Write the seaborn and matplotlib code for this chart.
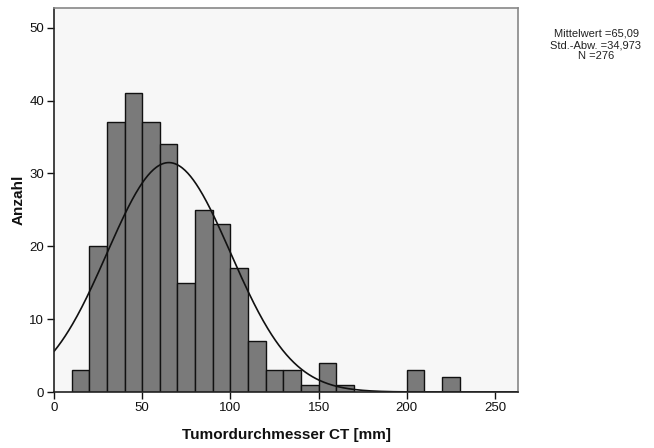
import numpy as np
import pandas as pd
import matplotlib
matplotlib.use("Agg")
import matplotlib.pyplot as plt
import seaborn as sns

sns.set_style("white")
plt.rcParams['font.family'] = ['Liberation Sans', 'DejaVu Sans']

bin_left = [10, 20, 30, 40, 50, 60, 70, 80, 90, 100, 110, 120, 130, 140, 150, 160, 170, 180, 190, 200, 210, 220]
counts = [3, 20, 37, 41, 37, 34, 15, 25, 23, 17, 7, 3, 3, 1, 4, 1, 0, 0, 0, 3, 0, 2]
bin_width = 10
mean_val = 65.09
sd_val = 34.973
n_val = 276

df = pd.DataFrame({"x": np.array(bin_left) + bin_width / 2, "w": counts})
edges = list(bin_left) + [bin_left[-1] + bin_width]

fig = plt.figure(figsize=(6.54, 4.48), dpi=100)
ax = fig.add_axes([54/654, 1 - 392/448, (518-54)/654, (392-8)/448])
ax.set_facecolor("#f7f7f7")

sns.histplot(data=df, x="x", weights="w", bins=edges, ax=ax,
             color="#7a7a7a", edgecolor="#111111", linewidth=1.0, alpha=1.0)

xs = np.linspace(0, 263, 500)
ys = n_val * bin_width * np.exp(-0.5 * ((xs - mean_val) / sd_val) ** 2) / (sd_val * np.sqrt(2 * np.pi))
sns.lineplot(x=xs, y=ys, ax=ax, color="#111111", linewidth=1.2)

ax.set_xlim(0, 263)
ax.set_ylim(0, 52.7)
ax.set_xticks([0, 50, 100, 150, 200, 250])
ax.set_yticks([0, 10, 20, 30, 40, 50])
ax.tick_params(axis="both", direction="out", length=5, width=1, color="#111111",
               labelsize=9.5, labelcolor="#111111", bottom=True, left=True, pad=2)
ax.set_xlabel("Tumordurchmesser CT [mm]", fontsize=11, fontweight="bold", labelpad=10, color="#111111")
ax.set_ylabel("Anzahl", fontsize=11, fontweight="bold", labelpad=3, color="#111111")

for s in ["left", "bottom"]:
    ax.spines[s].set_color("#222222")
    ax.spines[s].set_linewidth(1.2)
for s in ["top", "right"]:
    ax.spines[s].set_color("#888888")
    ax.spines[s].set_linewidth(1.2)

fig.text(596/654, 1 - 29/448, "Mittelwert =65,09\nStd.-Abw. =34,973\nN =276",
         ha="center", va="top", fontsize=8, linespacing=1.15, color="#222222")

fig.savefig("out.png", dpi=100)
